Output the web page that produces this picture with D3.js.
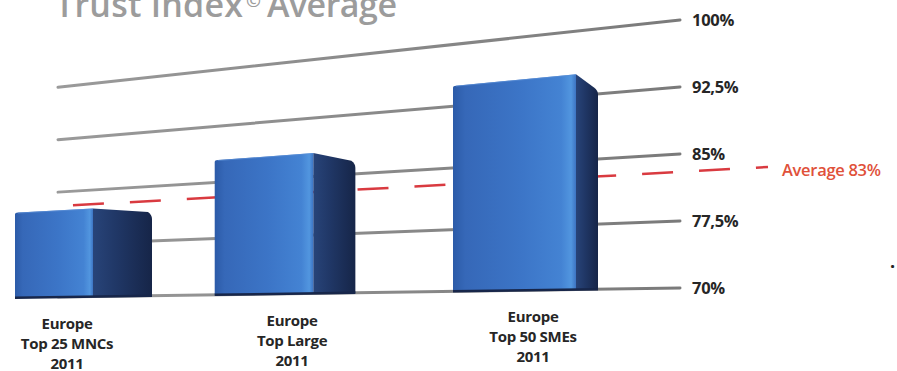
<!DOCTYPE html>
<html>
<head>
<meta charset="utf-8">
<script src="https://cdn.jsdelivr.net/npm/d3@7"></script>
<style>
  html, body { margin: 0; padding: 0; background: #ffffff; }
  svg { display: block; }
</style>
</head>
<body>
<svg id="chart" width="897" height="371"></svg>
<script>
// ---- data ----
const categoryLines = [
  ["Europe", "Top 25 MNCs", "2011"],
  ["Europe", "Top Large", "2011"],
  ["Europe", "Top 50 SMEs", "2011"]
];
const values = [82.4, 88, 95];
const tickValues = [70, 77.5, 85, 92.5, 100];
const tickLabels = ["70%", "77,5%", "85%", "92,5%", "100%"];
const averageValue = 83;
const averageLabel = "Average 83%";
const titleParts = ["Trust Index", "©", "Average"];

// ---- layout / perspective scales ----
const svg = d3.select("#chart");
const gridX0 = 58, gridX1 = 680;

// y of the 70% floor and of the 100% ceiling, varying along x (perspective)
const floorY = d3.scaleLinear().domain([60, 680]).range([297, 288]);
const ceilY  = d3.scaleLinear().domain([60, 680]).range([87, 20]);
const yAt = x => d3.scaleLinear().domain([70, 100]).range([floorY(x), ceilY(x)]);

// horizontal: category position in "world" space, warped onto the screen
const pos = d3.scalePoint().domain(d3.range(values.length)).range([0, 1]);
const centerX = d3.scalePow().exponent(1.133).domain([0, 1]).range([83.5, 525.5]);
const barW = d3.scaleLinear().domain([83.5, 525.5]).range([137, 145]);
const sideW = d3.scaleLinear().domain([152, 598]).range([59, 22]);
const labelX = d3.scalePow().exponent(1.05).domain([0, 1]).range([67, 533]);

// ---- defs ----
const defs = svg.append("defs");
const gFront = defs.append("linearGradient").attr("id", "front").attr("x1", 0).attr("x2", 1).attr("y1", 0).attr("y2", 0);
[["0%", "#2c5ba8"], ["10%", "#3668b8"], ["55%", "#3c75c7"], ["88%", "#4483d3"], ["96%", "#5296df"], ["100%", "#3d74c2"]]
  .forEach(([o, c]) => gFront.append("stop").attr("offset", o).attr("stop-color", c));
const gSide = defs.append("linearGradient").attr("id", "side").attr("x1", 0).attr("x2", 1).attr("y1", 0).attr("y2", 0);
[["0%", "#284479"], ["40%", "#203766"], ["100%", "#162548"]]
  .forEach(([o, c]) => gSide.append("stop").attr("offset", o).attr("stop-color", c));
const gGrid = defs.append("linearGradient").attr("id", "grid").attr("x1", 0).attr("x2", 1).attr("y1", 0).attr("y2", 0);
[["0%", "#9a9a9a"], ["100%", "#7a7a7a"]]
  .forEach(([o, c]) => gGrid.append("stop").attr("offset", o).attr("stop-color", c));

// ---- title (top clipped, as in the source) ----
const title = svg.append("text")
  .attr("y", 17)
  .attr("font-family", "'Open Sans', sans-serif")
  .attr("font-weight", 600)
  .attr("font-size", 34)
  .attr("fill", "#9c9c9c");
title.append("tspan").attr("x", 55).attr("textLength", 188).attr("lengthAdjust", "spacing").text(titleParts[0]);
title.append("tspan").attr("x", 246).attr("dy", -10).attr("font-size", 18).text(titleParts[1]);
title.append("tspan").attr("x", 267).attr("dy", 10).attr("textLength", 130).attr("lengthAdjust", "spacing").text(titleParts[2]);

// ---- gridlines ----
const grid = svg.append("g");
grid.selectAll("line").data(tickValues).join("line")
  .attr("x1", gridX0).attr("x2", gridX1)
  .attr("y1", d => yAt(gridX0)(d))
  .attr("y2", d => yAt(gridX1)(d))
  .attr("stroke", "url(#grid)")
  .attr("stroke-width", 3)
  .attr("stroke-linecap", "round");

grid.selectAll("text").data(tickValues).join("text")
  .attr("x", 692)
  .attr("y", d => yAt(gridX1)(d) - 1)
  .attr("dominant-baseline", "central")
  .attr("font-family", "'Open Sans', sans-serif")
  .attr("font-weight", 700)
  .attr("font-size", 16.5)
  .attr("letter-spacing", -0.3)
  .attr("fill", "#262626")
  .text((d, i) => tickLabels[i]);

// ---- average dashed line ----
const avgX0 = 52, avgX1 = 768;
svg.append("line")
  .attr("x1", avgX0).attr("x2", avgX1)
  .attr("y1", yAt(avgX0)(averageValue))
  .attr("y2", yAt(avgX1)(averageValue))
  .attr("stroke", "#d93a40")
  .attr("stroke-width", 2.5)
  .attr("stroke-dasharray", "31,26")
  .attr("stroke-dashoffset", -21);

svg.append("text")
  .attr("x", 782)
  .attr("y", yAt(782)(averageValue) + 3)
  .attr("dominant-baseline", "central")
  .attr("font-family", "'Open Sans', sans-serif")
  .attr("font-weight", 600)
  .attr("font-size", 16.5)
  .attr("letter-spacing", -0.3)
  .attr("fill", "#e0513a")
  .text(averageLabel);

// ---- bars ----
const bars = svg.append("g").selectAll("g").data(values).join("g");
bars.each(function (v, i) {
  const g = d3.select(this);
  const c = centerX(pos(i));
  const w = barW(c);
  const x0 = c - w / 2;
  const x2 = c + w / 2;
  const x1 = x2 - sideW(x2);
  const t0 = yAt(x0)(v), t1 = yAt(x1)(v);
  const b0 = yAt(x0)(70), b1 = yAt(x1)(70), b2 = yAt(x2)(70);
  const drop = 0.075 * (b1 - t1);
  // side face
  g.append("path")
    .attr("d", `M${x1},${t1} L${x2 - 4},${t1 + drop - 3} Q${x2},${t1 + drop} ${x2},${t1 + drop + 4} L${x2},${b2} L${x1},${b1} Z`)
    .attr("fill", "url(#side)");
  // front face
  g.append("path")
    .attr("d", `M${x0},${t0 + 2} Q${x0},${t0} ${x0 + 3},${t0} L${x1},${t1} L${x1},${b1} L${x0},${b0} Z`)
    .attr("fill", "url(#front)");
  // top highlight
  g.append("line")
    .attr("x1", x0 + 3).attr("y1", t0 + 0.5).attr("x2", x1).attr("y2", t1 + 0.5)
    .attr("stroke", "#5b8fd6").attr("stroke-width", 1).attr("opacity", 0.7);
  // bottom dark edge
  g.append("path")
    .attr("d", `M${x0},${b0} L${x2},${b2}`)
    .attr("stroke", "#17264a").attr("stroke-width", 2.5);
});

// ---- category labels ----
const labels = svg.append("g").selectAll("text").data(categoryLines).join("text")
  .attr("text-anchor", "middle")
  .attr("font-family", "'Open Sans', sans-serif")
  .attr("font-weight", 700)
  .attr("font-size", 15)
  .attr("letter-spacing", -0.3)
  .attr("fill", "#262626");
labels.each(function (lines, i) {
  const cx = labelX(pos(i));
  const y0 = floorY(cx) + 26;
  d3.select(this).selectAll("tspan").data(lines).join("tspan")
    .attr("x", cx)
    .attr("y", (d, j) => y0 + j * 20)
    .attr("dominant-baseline", "central")
    .text(d => d);
});

// stray mark at the right edge
svg.append("text")
  .attr("x", 890).attr("y", 273)
  .attr("font-family", "'Open Sans', sans-serif")
  .attr("font-weight", 700)
  .attr("font-size", 18)
  .attr("fill", "#222")
  .text("·");
</script>
</body>
</html>
